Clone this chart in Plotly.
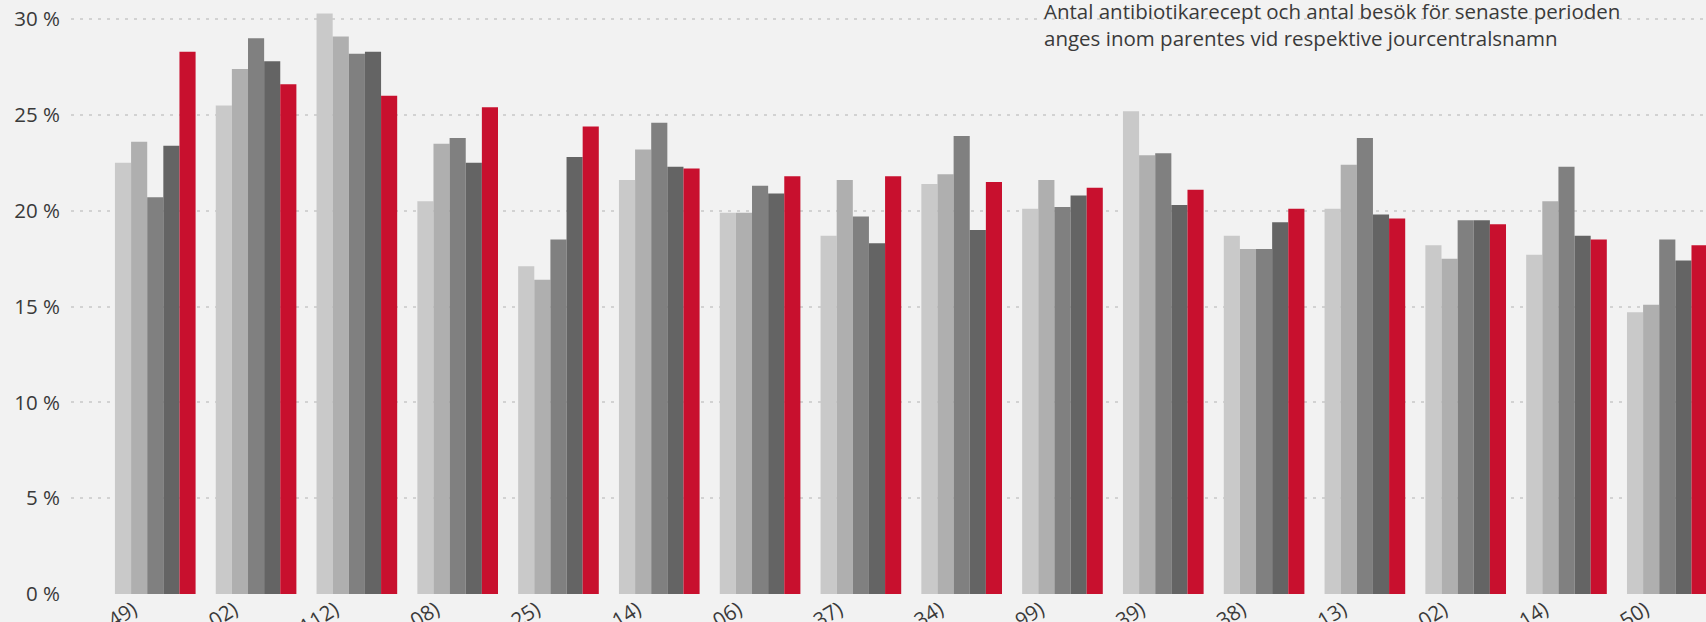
import plotly.graph_objects as go

categories = [
    "Jourcentral 1 (…49)", "Jourcentral 2 (…02)", "Jourcentral 3 (…112)", "Jourcentral 4 (…08)",
    "Jourcentral 5 (…25)", "Jourcentral 6 (…14)", "Jourcentral 7 (…06)", "Jourcentral 8 (…37)",
    "Jourcentral 9 (…34)", "Jourcentral 10 (…99)", "Jourcentral 11 (…39)", "Jourcentral 12 (…38)",
    "Jourcentral 13 (…13)", "Jourcentral 14 (…02)", "Jourcentral 15 (…14)", "Jourcentral 16 (…50)",
]

period1 = [22.5, 25.5, 30.3, 20.5, 17.1, 21.6, 19.9, 18.7, 21.4, 20.1, 25.2, 18.7, 20.1, 18.2, 17.7, 14.7]
period2 = [23.6, 27.4, 29.1, 23.5, 16.4, 23.2, 19.9, 21.6, 21.9, 21.6, 22.9, 18.0, 22.4, 17.5, 20.5, 15.1]
period3 = [20.7, 29.0, 28.2, 23.8, 18.5, 24.6, 21.3, 19.7, 23.9, 20.2, 23.0, 18.0, 23.8, 19.5, 22.3, 18.5]
period4 = [23.4, 27.8, 28.3, 22.5, 22.8, 22.3, 20.9, 18.3, 19.0, 20.8, 20.3, 19.4, 19.8, 19.5, 18.7, 17.4]
period5 = [28.3, 26.6, 26.0, 25.4, 24.4, 22.2, 21.8, 21.8, 21.5, 21.2, 21.1, 20.1, 19.6, 19.3, 18.5, 18.2]

series = [
    ("Period 1", period1, "#c9c9c9"),
    ("Period 2", period2, "#afafaf"),
    ("Period 3", period3, "#808080"),
    ("Period 4", period4, "#646464"),
    ("Period 5", period5, "#c8102e"),
]

note_text = ("Antal antibiotikarecept och antal besök för senaste perioden<br>"
             "anges inom parentes vid respektive jourcentralsnamn")

fig = go.Figure()
for name, vals, col in series:
    fig.add_trace(go.Bar(x=categories, y=vals, name=name, marker=dict(color=col, line=dict(width=0))))

font_family = "Open Sans, Noto Sans, sans-serif"
txt_col = "#3a3a3a"

fig.update_layout(
    width=1706, height=622,
    margin=dict(l=71, r=0, t=0, b=28, pad=0, autoexpand=False),
    paper_bgcolor="#f2f2f2",
    plot_bgcolor="#f2f2f2",
    barmode="group",
    bargap=0.2,
    bargroupgap=0,
    showlegend=False,
    font=dict(family=font_family, color=txt_col, size=20),
    xaxis=dict(
        type="category",
        range=[-0.836, 15.384],
        tickangle=-32,
        ticklabelshift=-22,
        ticklabelstandoff=-1,
        automargin=False,
        showgrid=False,
        showline=False,
        zeroline=False,
        ticks="",
        tickfont=dict(size=20.5, color=txt_col),
    ),
    yaxis=dict(
        range=[0, 31.0],
        automargin=False,
        tickvals=[0, 5, 10, 15, 20, 25, 30],
        ticktext=["0 %", "5 %", "10 %", "15 %", "20 %", "25 %", "30 %"],
        showgrid=True,
        gridcolor="#d2d2d2",
        gridwidth=2,
        griddash="3px,6px",
        zeroline=False,
        showline=False,
        ticks="",
        ticklabelstandoff=10,
        tickfont=dict(size=20.5, color=txt_col),
    ),
    annotations=[
        dict(text=note_text, xref="paper", yref="paper", x=(1042 - 71) / 1635, y=(594 + 5) / 594,
             xanchor="left", yanchor="top", align="left", showarrow=False,
             font=dict(size=20.5, color=txt_col, family=font_family)),
    ],
)

fig.write_html("out.html")
